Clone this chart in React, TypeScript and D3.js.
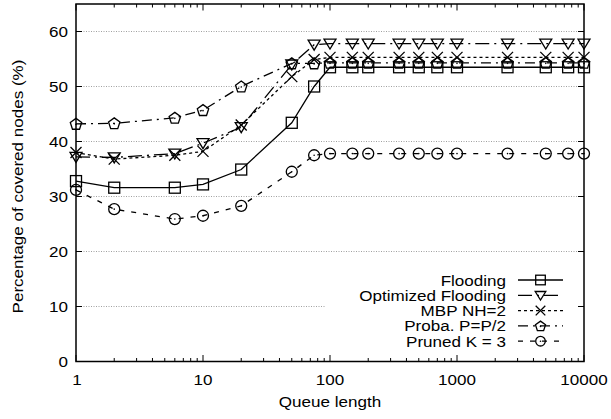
import React from "react";
import * as d3 from "d3";

const queueLengths = [1, 2, 6, 10, 20, 50, 75, 100, 150, 200, 350, 500, 700, 1000, 2500, 5000, 7500, 10000];
const flooding = [32.8, 31.6, 31.6, 32.2, 34.9, 43.4, 50.0, 53.5, 53.5, 53.5, 53.5, 53.5, 53.5, 53.5, 53.5, 53.5, 53.5, 53.5];
const optimizedFlooding = [37.2, 37.1, 37.8, 39.7, 42.6, 54.0, 57.6, 57.8, 57.8, 57.8, 57.8, 57.8, 57.8, 57.8, 57.8, 57.8, 57.8, 57.8];
const mbp = [38.0, 36.8, 37.5, 38.2, 43.0, 51.8, 54.9, 55.3, 55.3, 55.3, 55.3, 55.3, 55.3, 55.3, 55.3, 55.3, 55.3, 55.3];
const proba = [43.2, 43.3, 44.3, 45.7, 50.0, 54.2, 54.2, 54.3, 54.3, 54.3, 54.3, 54.3, 54.3, 54.3, 54.3, 54.3, 54.3, 54.3];
const pruned = [31.2, 27.7, 25.9, 26.5, 28.3, 34.5, 37.5, 37.8, 37.8, 37.8, 37.8, 37.8, 37.8, 37.8, 37.8, 37.8, 37.8, 37.8];

const seriesNames = ["Flooding", "Optimized Flooding", "MBP NH=2", "Proba. P=P/2", "Pruned K = 3"];
const seriesValues = [flooding, optimizedFlooding, mbp, proba, pruned];
const seriesMarkers = ["square", "triangle", "cross", "pentagon", "circle"];
const seriesDash = ["", "14,5,2,5", "3,3", "10,5,2,5", "5,7"];

const xTicks = [1, 10, 100, 1000, 10000];
const yTicks = [0, 10, 20, 30, 40, 50, 60];

const W = 611;
const H = 419;
const L = 76, R = 584, T = 4, B = 361.5;
const FONT = "'Liberation Sans', Arial, Helvetica, sans-serif";
const SX = 1.1;
const FS = 15.5;

function Txt({ x, y, anchor, rotate, children }: { x: number; y: number; anchor: string; rotate?: number; children: React.ReactNode }) {
  const tr = rotate ? `translate(${x},${y}) rotate(${rotate}) scale(${SX},1)` : `translate(${x},${y}) scale(${SX},1)`;
  return (
    <text transform={tr} textAnchor={anchor} fontFamily={FONT} fontSize={FS} fill="#000">{children}</text>
  );
}

function Marker({ type, x, y, s = 5.5 }: { type: string; x: number; y: number; s?: number }) {
  const common = { fill: "none", stroke: "#000", strokeWidth: 1.3 };
  if (type === "square") {
    return <rect x={x - s} y={y - s} width={2 * s} height={2 * s} {...common} />;
  }
  if (type === "triangle") {
    const pts = `${x - s - 0.5},${y - s + 1} ${x + s + 0.5},${y - s + 1} ${x},${y + s}`;
    return <polygon points={pts} {...common} />;
  }
  if (type === "cross") {
    return (
      <g>
        <line x1={x - s} y1={y - s} x2={x + s} y2={y + s} {...common} />
        <line x1={x - s} y1={y + s} x2={x + s} y2={y - s} {...common} />
      </g>
    );
  }
  if (type === "pentagon") {
    const r = s + 0.5;
    const pts = d3.range(5).map((i) => {
      const a = -Math.PI / 2 + (i * 2 * Math.PI) / 5;
      return `${x + r * Math.cos(a)},${y + 0.5 + r * Math.sin(a)}`;
    }).join(" ");
    return (
      <g>
        <polygon points={pts} {...common} />
        <circle cx={x} cy={y + 0.5} r={0.8} fill="#000" />
      </g>
    );
  }
  return (
    <g>
      <circle cx={x} cy={y} r={s} {...common} />
      <circle cx={x} cy={y} r={0.8} fill="#000" />
    </g>
  );
}

export default function App() {
  const x = d3.scaleLog().domain([1, 10000]).range([L, R]);
  const y = d3.scaleLinear().domain([0, 65]).range([B, T]);

  const minorTicks: number[] = [];
  for (let d = 1; d < 10000; d *= 10) {
    for (let k = 2; k <= 9; k++) minorTicks.push(d * k);
  }

  const line = d3.line<[number, number]>().x((d) => x(d[0])).y((d) => y(d[1]));

  const legendY0 = 280;
  const legendStep = 15.3;

  return (
    <svg width={W} height={H} style={{ position: "absolute", left: 0, top: 0, background: "#fff" }}>
      <rect x={0} y={0} width={W} height={H} fill="#fff" />
      {yTicks.filter((t) => t > 0).map((t) => (
        <line key={"g" + t} x1={L} x2={R} y1={y(t)} y2={y(t)} stroke="#888" strokeWidth={0.8} strokeDasharray="1,1.5" />
      ))}
      <rect x={325} y={268} width={252} height={84} fill="#fff" />
      {yTicks.map((t) => (
        <g key={"yt" + t}>
          <line x1={L} x2={L + 6} y1={y(t)} y2={y(t)} stroke="#000" strokeWidth={1} />
          <line x1={R} x2={R - 6} y1={y(t)} y2={y(t)} stroke="#000" strokeWidth={1} />
          <Txt x={68} y={y(t) + 5.5} anchor="end">{t}</Txt>
        </g>
      ))}
      {xTicks.map((t) => (
        <g key={"xt" + t}>
          <line x1={x(t)} x2={x(t)} y1={B} y2={B - 6.5} stroke="#000" strokeWidth={1} />
          <line x1={x(t)} x2={x(t)} y1={T} y2={T + 6.5} stroke="#000" strokeWidth={1} />
          <Txt x={x(t) + (t === 1 ? 1 : 0)} y={384.5} anchor="middle">{t}</Txt>
        </g>
      ))}
      {minorTicks.map((t) => (
        <g key={"mt" + t}>
          <line x1={x(t)} x2={x(t)} y1={B} y2={B - 3.5} stroke="#000" strokeWidth={1} />
          <line x1={x(t)} x2={x(t)} y1={T} y2={T + 3.5} stroke="#000" strokeWidth={1} />
        </g>
      ))}
      {seriesValues.map((vals, si) => {
        const pts = queueLengths.map((q, i) => [q, vals[i]] as [number, number]);
        return (
          <g key={"s" + si}>
            <path d={line(pts) || ""} fill="none" stroke="#000" strokeWidth={1.3} strokeDasharray={seriesDash[si] || undefined} />
            {pts.map((p, i) => (
              <Marker key={i} type={seriesMarkers[si]} x={x(p[0])} y={y(p[1])} />
            ))}
          </g>
        );
      })}
      <rect x={L} y={T} width={R - L} height={B - T} fill="none" stroke="#000" strokeWidth={1.5} />
      {seriesNames.map((name, i) => {
        const ly = legendY0 + i * legendStep;
        return (
          <g key={"l" + i}>
            <Txt x={506} y={ly + 5.5} anchor="end">{name}</Txt>
            <line x1={518} x2={563} y1={ly} y2={ly} stroke="#000" strokeWidth={1.3} strokeDasharray={seriesDash[i] || undefined} />
            <Marker type={seriesMarkers[i]} x={540.5} y={ly} s={4.8} />
          </g>
        );
      })}
      <Txt x={330} y={407} anchor="middle">Queue length</Txt>
      <Txt x={23} y={186.5} anchor="middle" rotate={-90}>Percentage of covered nodes (%)</Txt>
    </svg>
  );
}
